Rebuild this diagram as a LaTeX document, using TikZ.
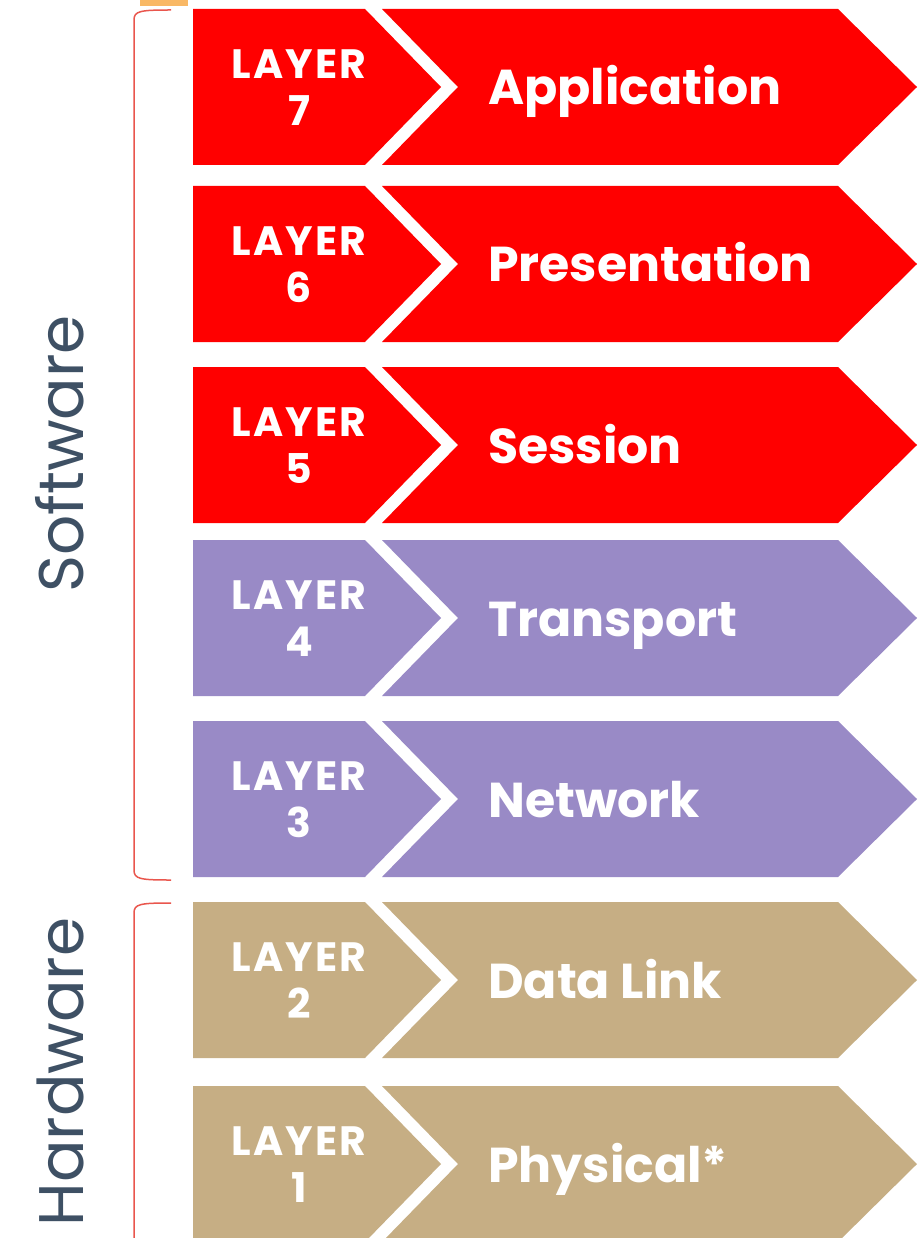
\documentclass[tikz,border=0pt]{standalone}
\usepackage{fontspec}
\setmainfont{Poppins}
\usetikzlibrary{calc}

\definecolor{appred}{HTML}{FF0000}
\definecolor{netpurple}{HTML}{998AC6}
\definecolor{hwtan}{HTML}{C6AE84}
\definecolor{bracered}{HTML}{E9564D}
\definecolor{sideink}{HTML}{3E5064}
\definecolor{glow}{HTML}{F7A031}

\tikzset{
  layertag/.style={text=white, align=center, inner sep=0pt,
    font=\bfseries\fontsize{41}{47}\selectfont\addfontfeature{LetterSpace=5}},
  layername/.style={text=white, inner sep=0pt, anchor=base west,
    font=\bfseries\fontsize{49}{56}\selectfont},
  sidelabel/.style={text=sideink, rotate=90, inner sep=0pt,
    font=\fontsize{63}{70}\selectfont},
  bracket/.style={draw=bracered, line width=1.5pt},
}

% one OSI row: #1 top edge, #2 colour, #3 layer number, #4 layer name, #5 id
\newcommand\osirow[5]{%
  \fill[#2] (193,#1) -- (365,#1) -- (441,#1+78) -- (365,#1+156)
            -- (193,#1+156) -- cycle;
  \fill[#2] (382,#1) -- (838,#1) -- (917,#1+78) -- (838,#1+156)
            -- (382,#1+156) -- (458,#1+78) -- cycle;
  \node[layertag] (tag#5) at (299,#1+79) {LAYER\\#3};
  \node[layername] (name#5) at (488,#1+96) {#4};
}

\begin{document}
\begin{tikzpicture}[x=1pt, y=-1pt]
  \useasboundingbox (0,0) rectangle (918,1238);
  \clip (0,0) rectangle (918,1238);

  % small orange mark at the top edge
  \fill[glow, opacity=0.75] (140,0) rectangle (188,6);

  \osirow{9}{appred}{7}{Application}{7}
  \osirow{186}{appred}{6}{Presentation}{6}
  \osirow{367}{appred}{5}{Session}{5}
  \osirow{540}{netpurple}{4}{Transport}{4}
  \osirow{721}{netpurple}{3}{Network}{3}
  \osirow{902}{hwtan}{2}{Data Link}{2}
  \osirow{1086}{hwtan}{1}{Physical*}{1}

  % brackets grouping the layers
  \coordinate (swtop) at (171,10);
  \coordinate (swbot) at (171,880);
  \coordinate (hwtop) at (171,903);
  \coordinate (hwbot) at (134,1250);
  \draw[bracket] (swtop) .. controls (140,10) and (134,11) .. (134,20)
      -- (134,870) .. controls (134,879) and (140,880) .. (swbot);
  \draw[bracket] (hwtop) .. controls (140,903) and (134,904) .. (134,913)
      -- (hwbot);

  \node[sidelabel] (software) at (60,454) {Software};
  \node[sidelabel] (hardware) at (60,1072) {Hardware};
\end{tikzpicture}
\end{document}
